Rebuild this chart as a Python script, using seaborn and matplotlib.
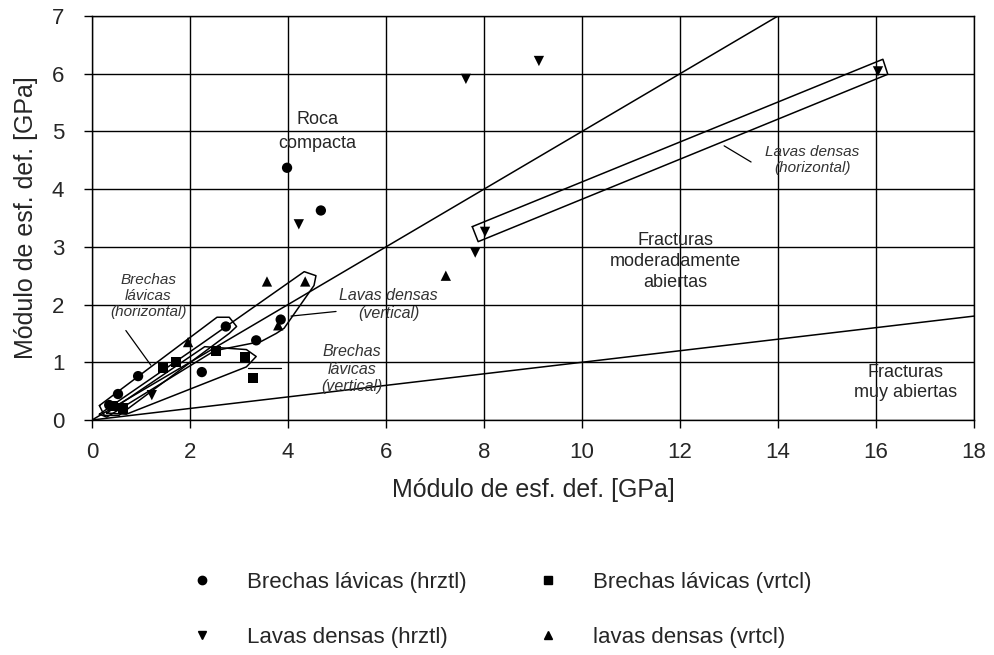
import numpy as np
import pandas as pd
import matplotlib
matplotlib.use('Agg')
import matplotlib.pyplot as plt
import seaborn as sns
from matplotlib.lines import Line2D

# Datos (GPa)
brechas_hrztl_x = [0.35, 0.53, 0.94, 2.24, 2.73, 3.35, 3.85, 4.67, 3.98]
brechas_hrztl_y = [0.26, 0.45, 0.76, 0.83, 1.62, 1.38, 1.74, 3.63, 4.37]

brechas_vrtcl_x = [0.43, 0.63, 1.45, 1.71, 2.53, 3.12, 3.29]
brechas_vrtcl_y = [0.24, 0.20, 0.90, 1.00, 1.19, 1.09, 0.73]

lavas_hrztl_x = [1.22, 4.22, 7.82, 8.02, 7.63, 9.12, 16.04]
lavas_hrztl_y = [0.43, 3.39, 2.90, 3.26, 5.91, 6.22, 6.04]

lavas_vrtcl_x = [1.96, 3.57, 3.80, 4.35, 7.22]
lavas_vrtcl_y = [1.35, 2.40, 1.64, 2.40, 2.50]

series_names = ['Brechas lávicas (hrztl)', 'Brechas lávicas (vrtcl)',
                'Lavas densas (hrztl)', 'lavas densas (vrtcl)']

# Rectas de referencia E_masa / E_roca
ref_slopes = [0.5, 0.1]

# Contornos de los grupos (coordenadas en GPa)
env_lavas_h = [(7.76, 3.35), (16.14, 6.25), (16.24, 5.99), (7.88, 3.09), (7.76, 3.35)]
env_brechas_h = [(0.15, 0.25), (2.55, 1.78), (2.8, 1.78), (2.95, 1.62), (2.8, 1.5),
                 (0.55, 0.08), (0.25, 0.08), (0.15, 0.25)]
env_lavas_v = [(0.15, 0.1), (2.2, 1.3), (4.33, 2.57), (4.57, 2.5), (4.53, 2.33),
               (3.92, 1.59), (3.76, 1.5), (3.45, 1.36), (2.5, 1.2), (0.3, 0.05), (0.15, 0.1)]
env_brechas_v = [(0.3, 0.12), (2.3, 1.27), (3.15, 1.22), (3.35, 1.1), (3.15, 0.92),
                 (0.7, 0.1), (0.3, 0.12)]
envelopes = [env_lavas_h, env_brechas_h, env_lavas_v, env_brechas_v]

# Líneas guía de las etiquetas
leaders = [[(0.69, 1.55), (1.2, 0.95)],
           [(4.06, 1.80), (4.98, 1.88)],
           [(3.18, 0.90), (3.86, 0.90)],
           [(12.9, 4.75), (13.45, 4.47)]]

sns.set_style("white")
plt.rcParams['font.family'] = ['Liberation Sans', 'DejaVu Sans']

df = pd.DataFrame({
    'x': brechas_hrztl_x + brechas_vrtcl_x + lavas_hrztl_x + lavas_vrtcl_x,
    'y': brechas_hrztl_y + brechas_vrtcl_y + lavas_hrztl_y + lavas_vrtcl_y,
    'serie': ([series_names[0]] * len(brechas_hrztl_x) + [series_names[1]] * len(brechas_vrtcl_x)
              + [series_names[2]] * len(lavas_hrztl_x) + [series_names[3]] * len(lavas_vrtcl_x)),
})
markers = dict(zip(series_names, ['o', 's', 'v', '^']))

fig = plt.figure(figsize=(9.94, 6.55), dpi=100)
ax = fig.add_axes([0.0926, 0.3588, 0.8873, 0.6168])

sns.scatterplot(data=df, x='x', y='y', style='serie', markers=markers, color='black',
                s=55, edgecolor='black', linewidth=0, ax=ax, legend=False, zorder=5)

xs = np.array([0, 18])
for m in ref_slopes:
    ax.plot(xs, m * xs, color='black', lw=1.1, zorder=3)

for env in envelopes:
    ex, ey = zip(*env)
    ax.plot(ex, ey, color='black', lw=1.1, zorder=3)
for ld in leaders:
    lx, ly = zip(*ld)
    ax.plot(lx, ly, color='black', lw=0.9, zorder=3)

ax.set_xlim(0, 18)
ax.set_ylim(0, 7)
ax.set_xticks(range(0, 19, 2))
ax.set_yticks(range(0, 8))
ax.grid(True, color='black', lw=1.0)
ax.set_axisbelow(True)
for sp in ax.spines.values():
    sp.set_color('black')
    sp.set_linewidth(1.0)
ax.tick_params(labelsize=16, direction='out', length=6, width=1, color='black',
               bottom=True, left=True)
ax.tick_params(axis='x', pad=10)
ax.tick_params(axis='y', pad=14)
ax.set_xlabel('Módulo de esf. def. [GPa]', fontsize=18, labelpad=11)
ax.set_ylabel('Módulo de esf. def. [GPa]', fontsize=18, labelpad=10)

ax.text(4.6, 5.0, 'Roca\ncompacta', ha='center', va='center', fontsize=13, linespacing=1.5)
ax.text(1.15, 2.15, 'Brechas\nlávicas\n(horizontal)', ha='center', va='center',
        fontsize=11, style='italic', linespacing=1.2, color='#333333')
ax.text(6.05, 2.0, 'Lavas densas\n(vertical)', ha='center', va='center',
        fontsize=11.5, style='italic', linespacing=1.2, color='#333333')
ax.text(5.3, 0.88, 'Brechas\nlávicas\n(vertical)', ha='center', va='center',
        fontsize=11.5, style='italic', linespacing=1.2, color='#333333')
ax.text(14.7, 4.5, 'Lavas densas\n(horizontal)', ha='center', va='center',
        fontsize=11, style='italic', linespacing=1.2, color='#333333')
ax.text(11.9, 2.75, 'Fracturas\nmoderadamente\nabiertas', ha='center', va='center',
        fontsize=13, linespacing=1.3)
ax.text(16.6, 0.65, 'Fracturas\nmuy abiertas', ha='center', va='center',
        fontsize=13, linespacing=1.3)

# orden por columnas para que la primera fila sean las brechas
legend_order = [0, 2, 1, 3]
handles = [Line2D([], [], marker=markers[series_names[i]], color='black', ls='none',
                  markersize=6) for i in legend_order]
labels = [series_names[i] for i in legend_order]
fig.legend(handles, labels, loc='upper left', bbox_to_anchor=(0.181, 0.127),
           ncol=2, frameon=False, fontsize=16, labelspacing=1.55, handlelength=2.0,
           handletextpad=1.0, columnspacing=2.7, borderpad=0, borderaxespad=0)

fig.savefig('out.png', dpi=100)
